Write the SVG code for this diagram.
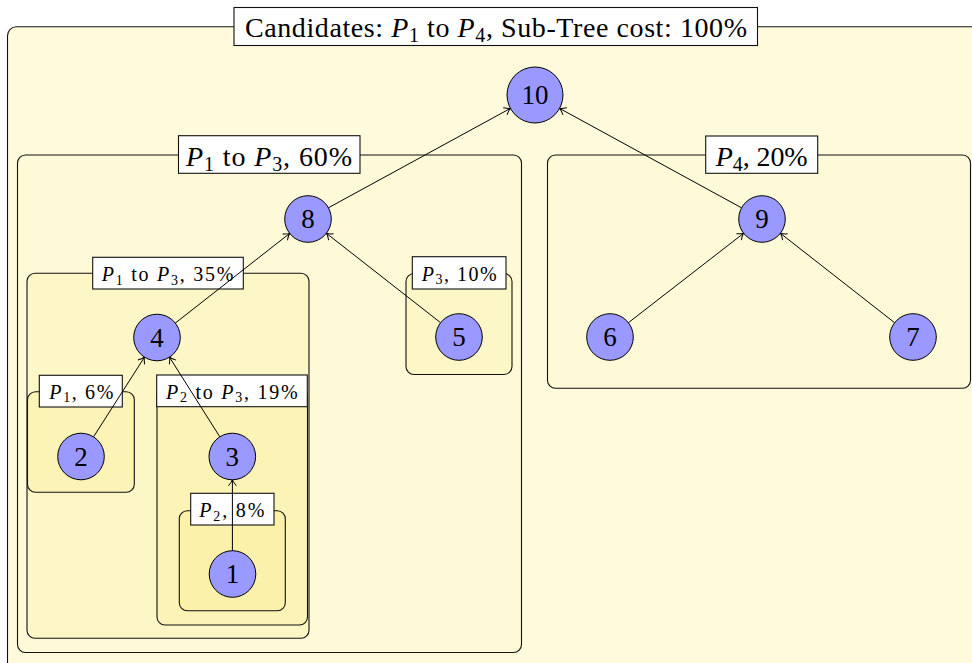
<svg xmlns="http://www.w3.org/2000/svg" width="972" height="663" viewBox="0 0 972 663">
<defs>
<marker id="arr" markerUnits="userSpaceOnUse" viewBox="-10 -6 12 12" markerWidth="12" markerHeight="12" refX="0" refY="0" orient="auto">
<path d="M -6 -4 Q -2 -0.6 0 0 Q -2 0.6 -6 4" fill="none" stroke="#000" stroke-width="1"/>
</marker>
</defs>
<style>
.box{stroke:#111;stroke-width:1.1}
.l1{fill:#fffadb}.l2{fill:#fef9d6}.l3{fill:#fdf6c6}.l4{fill:#fcf3b7}.l5{fill:#fbf1ab}
.lab{fill:#fff;stroke:#111;stroke-width:1.1}
.t{font-family:"Liberation Serif","Times New Roman",serif;fill:#000}
.big{font-size:28px}
.sm{font-size:20px}
.i{font-style:italic}
.node circle{fill:#9999ff;stroke:#000;stroke-width:1}
.node text{font-family:"Liberation Serif","Times New Roman",serif;font-size:27px;text-anchor:middle;fill:#000}
.edge{stroke:#000;stroke-width:1;fill:none;marker-end:url(#arr)}
</style>

<g id="box-all">
<rect class="box l1" x="7.5" y="26.7" width="1000" height="650" rx="9"/>
</g>
<g id="box-p1p3-60">
<rect class="box l2" x="17.5" y="155" width="504" height="497.5" rx="8"/>
</g>
<g id="box-p4-20">
<rect class="box l2" x="547.5" y="155" width="423" height="233.3" rx="8"/>
</g>
<g id="box-p1p3-35">
<rect class="box l3" x="27" y="273.3" width="282" height="365" rx="8"/>
</g>
<g id="box-p3-10">
<rect class="box l3" x="406" y="273.5" width="106" height="101" rx="8"/>
</g>
<g id="box-p1-6">
<rect class="box l4" x="27.5" y="391.7" width="106.8" height="100.6" rx="8"/>
</g>
<g id="box-p2p3-19">
<rect class="box l4" x="157" y="388" width="150.5" height="237" rx="8"/>
</g>
<g id="box-p2-8">
<rect class="box l5" x="179.3" y="510.7" width="106" height="100" rx="8"/>
</g>

<g id="label-all">
<rect class="lab" x="234" y="7.5" width="523.5" height="38"/>
<text class="t big" x="245" y="37" textLength="502">Candidates: <tspan class="i">P</tspan><tspan font-size="20" dy="5">1</tspan><tspan dy="-5"> to </tspan><tspan class="i">P</tspan><tspan font-size="20" dy="5">4</tspan><tspan dy="-5">, Sub-Tree cost: 100%</tspan></text>
</g>
<g id="label-60">
<rect class="lab" x="178.5" y="135.7" width="181.5" height="37.6"/>
<text class="t big" x="186" y="165.5" textLength="166"><tspan class="i">P</tspan><tspan font-size="20" dy="5">1</tspan><tspan dy="-5"> to </tspan><tspan class="i">P</tspan><tspan font-size="20" dy="5">3</tspan><tspan dy="-5">, 60%</tspan></text>
</g>
<g id="label-20">
<rect class="lab" x="705.7" y="136" width="112" height="37.3"/>
<text class="t big" x="715.7" y="165.7" textLength="92"><tspan class="i">P</tspan><tspan font-size="20" dy="5">4</tspan><tspan dy="-5">, 20%</tspan></text>
</g>
<g id="label-35">
<rect class="lab" x="92.7" y="257.3" width="150.6" height="31.7"/>
<text class="t sm" x="101.7" y="281" textLength="131.6"><tspan class="i">P</tspan><tspan font-size="14" dy="3.5">1</tspan><tspan dy="-3.5"> to </tspan><tspan class="i">P</tspan><tspan font-size="14" dy="3.5">3</tspan><tspan dy="-3.5">, 35%</tspan></text>
</g>
<g id="label-10">
<rect class="lab" x="412.3" y="256.7" width="93.7" height="32.3"/>
<text class="t sm" x="421.7" y="280.7" textLength="75"><tspan class="i">P</tspan><tspan font-size="14" dy="3.5">3</tspan><tspan dy="-3.5">, 10%</tspan></text>
</g>
<g id="label-6">
<rect class="lab" x="39.3" y="375.3" width="83" height="31.7"/>
<text class="t sm" x="49.3" y="398.5" textLength="64"><tspan class="i">P</tspan><tspan font-size="14" dy="3.5">1</tspan><tspan dy="-3.5">, 6%</tspan></text>
</g>
<g id="label-19">
<rect class="lab" x="156.7" y="375" width="150.6" height="31.7"/>
<text class="t sm" x="166" y="398.7" textLength="131.7"><tspan class="i">P</tspan><tspan font-size="14" dy="3.5">2</tspan><tspan dy="-3.5"> to </tspan><tspan class="i">P</tspan><tspan font-size="14" dy="3.5">3</tspan><tspan dy="-3.5">, 19%</tspan></text>
</g>
<g id="label-8">
<rect class="lab" x="190.7" y="493.3" width="83.3" height="31.7"/>
<text class="t sm" x="199.3" y="517.3" textLength="65"><tspan class="i">P</tspan><tspan font-size="14" dy="3.5">2</tspan><tspan dy="-3.5">, 8%</tspan></text>
</g>

<g id="connectors">
<line class="edge" x1="328.4" y1="207.8" x2="510.4" y2="108.4"/>
<line class="edge" x1="741.5" y1="207.8" x2="559.6" y2="108.4"/>
<line class="edge" x1="175.3" y1="323.1" x2="289.7" y2="233.4"/>
<line class="edge" x1="440.6" y1="322.7" x2="326.4" y2="233.3"/>
<line class="edge" x1="93.5" y1="436.9" x2="144.5" y2="357.1"/>
<line class="edge" x1="219.8" y1="436.8" x2="169.5" y2="357.2"/>
<line class="edge" x1="232.4" y1="550.7" x2="232.4" y2="479.8"/>
<line class="edge" x1="628.4" y1="322.7" x2="743.6" y2="233.3"/>
<line class="edge" x1="894.6" y1="322.7" x2="780.4" y2="233.3"/>
</g>

<g id="node-10" class="node"><circle cx="535" cy="95" r="28"/><text x="535" y="104.3">10</text></g>
<g id="node-8" class="node"><circle cx="308" cy="219" r="23.3"/><text x="308" y="228.3">8</text></g>
<g id="node-9" class="node"><circle cx="762" cy="219" r="23.3"/><text x="762" y="228.3">9</text></g>
<g id="node-4" class="node"><circle cx="157" cy="337.5" r="23.3"/><text x="157" y="346.8">4</text></g>
<g id="node-5" class="node"><circle cx="459" cy="337" r="23.3"/><text x="459" y="346.3">5</text></g>
<g id="node-6" class="node"><circle cx="610" cy="337" r="23.3"/><text x="610" y="346.3">6</text></g>
<g id="node-7" class="node"><circle cx="913" cy="337" r="23.3"/><text x="913" y="346.3">7</text></g>
<g id="node-2" class="node"><circle cx="81" cy="456.5" r="23.3"/><text x="81" y="465.8">2</text></g>
<g id="node-3" class="node"><circle cx="232.3" cy="456.5" r="23.3"/><text x="232.3" y="465.8">3</text></g>
<g id="node-1" class="node"><circle cx="232.5" cy="574" r="23.3"/><text x="232.5" y="583.3">1</text></g>
</svg>
